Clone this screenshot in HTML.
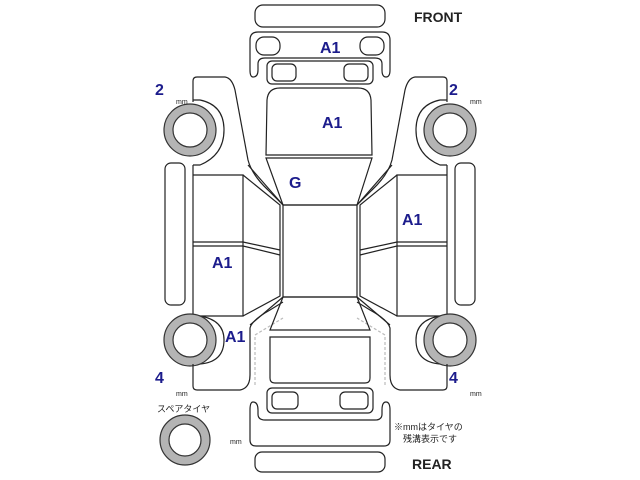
<!DOCTYPE html>
<html><head><meta charset="utf-8"><style>
html,body{margin:0;padding:0;background:#fff;width:640px;height:480px;overflow:hidden}
svg{display:block}
.t{font-family:"Liberation Sans",sans-serif;fill:#1c1c8c;font-size:16px;font-weight:bold}
.k{font-family:"Liberation Sans","Noto Sans CJK JP",sans-serif;fill:#222}
</style></head><body>
<svg width="640" height="480" viewBox="0 0 640 480" xmlns="http://www.w3.org/2000/svg">
<defs>
<g id="side" fill="none" stroke="#222" stroke-width="1.2">
  <path d="M193,102 L193,81 Q193,77 197,77 L225,77 Q232,78 235,90 L248,160 Q252,175 268,190 L283,205"/>
  <path d="M193,165 L200,165 Q224,155 224,130 Q224,105 200,100 L193,100"/>
  <circle cx="190" cy="130" r="26" fill="#b4b4b4" stroke="#333"/>
  <circle cx="190" cy="130" r="17" fill="#fff" stroke="#333"/>
  <rect x="165" y="163" width="20" height="142" rx="6"/>
  <path d="M193,165 L193,316"/>
  <path d="M193,175 L243,175 L243,316 L193,316"/>
  <path d="M193,242 L243,242 L280,250 M193,246 L243,246 L280,255"/>
  <path d="M243,175 L280,205 L280,296 L243,316"/>
  <path d="M248,165 L283,205 M250,325 L283,297"/>
  <path d="M193,316 L200,316 Q224,320 224,340 Q224,362 200,364 L193,364"/>
  <circle cx="190" cy="340" r="26" fill="#b4b4b4" stroke="#333"/>
  <circle cx="190" cy="340" r="17" fill="#fff" stroke="#333"/>
  <path d="M193,364 L193,386 Q193,390 197,390 L240,390 Q250,388 250,375 L250,328 Q252,320 270,310 L283,302"/>
  <path d="M255,385 L255,335 L283,318" stroke="#bbb" stroke-dasharray="3,2"/>
</g>
</defs>
<use href="#side"/>
<use href="#side" transform="translate(640,0) scale(-1,1)"/>
<g fill="none" stroke="#222" stroke-width="1.2">
  <rect x="255" y="5" width="130" height="22" rx="8"/>
  <path d="M253,77 Q250,77 250,70 L250,40 Q250,32 258,32 L382,32 Q390,32 390,40 L390,70 Q390,77 386,77 Q382,77 382,70 L382,64 Q382,58 375,58 L265,58 Q258,58 258,64 L258,70 Q258,77 253,77 Z"/>
  <rect x="256" y="37" width="24" height="18" rx="8"/>
  <rect x="360" y="37" width="24" height="18" rx="8"/>
  <rect x="267" y="61" width="106" height="23" rx="5"/>
  <rect x="272" y="64" width="24" height="17" rx="5"/>
  <rect x="344" y="64" width="24" height="17" rx="5"/>
  <path d="M266,155 L267,100 Q268,88 280,88 L358,88 Q370,88 371,100 L372,155 Z"/>
  <path d="M266,158 L372,158 L357,205 L283,205 Z"/>
  <rect x="283" y="205" width="74" height="92"/>
  <path d="M283,297 L357,297 L370,330 L270,330 Z"/>
  <path d="M270,337 L370,337 L370,378 Q370,383 365,383 L275,383 Q270,383 270,378 Z"/>
  <rect x="267" y="388" width="106" height="25" rx="5"/>
  <rect x="272" y="392" width="26" height="17" rx="5"/>
  <rect x="340" y="392" width="28" height="17" rx="5"/>
  <path d="M253,402 Q250,402 250,410 L250,440 Q250,446 256,446 L384,446 Q390,446 390,440 L390,410 Q390,402 386,402 Q382,402 382,410 L382,414 Q382,420 375,420 L265,420 Q258,420 258,414 L258,410 Q258,402 253,402 Z"/>
  <rect x="255" y="452" width="130" height="20" rx="7"/>
  <circle cx="185" cy="440" r="25" fill="#b4b4b4" stroke="#333"/>
  <circle cx="185" cy="440" r="16" fill="#fff" stroke="#333"/>
</g>
<text x="414" y="22" class="k" font-size="14" font-weight="bold">FRONT</text>
<text x="412" y="469" class="k" font-size="14" font-weight="bold">REAR</text>
<text x="320" y="53" class="t">A1</text>
<text x="322" y="128" class="t">A1</text>
<text x="289" y="188" class="t">G</text>
<text x="402" y="225" class="t">A1</text>
<text x="212" y="268" class="t">A1</text>
<text x="225" y="342" class="t">A1</text>
<text x="155" y="95" class="t">2</text>
<text x="449" y="95" class="t">2</text>
<text x="155" y="383" class="t">4</text>
<text x="449" y="383" class="t">4</text>
<text x="176" y="104" class="k" font-size="7">mm</text>
<text x="470" y="104" class="k" font-size="7">mm</text>
<text x="176" y="396" class="k" font-size="7">mm</text>
<text x="470" y="396" class="k" font-size="7">mm</text>
<text x="230" y="444" class="k" font-size="7">mm</text>
<text x="157" y="412" class="k" font-size="9">スペアタイヤ</text>
<text x="394" y="430" class="k" font-size="9">※mmはタイヤの</text>
<text x="403" y="442" class="k" font-size="9">残溝表示です</text>
</svg>
</body></html>
